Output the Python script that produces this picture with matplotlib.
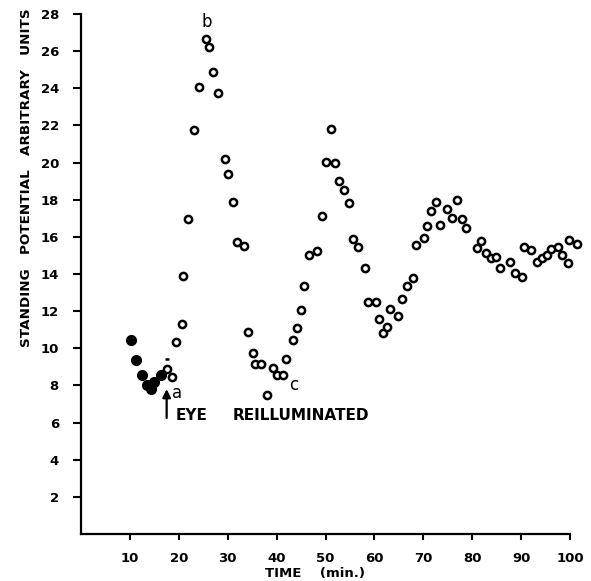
import numpy as np
import matplotlib.pyplot as plt

# Puntos llenos (antes de la reiluminación)
dark_time = [10.15, 11.23, 12.4, 13.42, 14.3, 14.97, 16.28]
dark_pot = [10.43, 9.37, 8.56, 8.02, 7.8, 8.21, 8.56]

# Puntos abiertos (ojo reiluminado)
light_time = [17.5, 18.53, 19.5, 20.64, 20.9, 21.93, 23.03, 24.18, 25.49, 26.16,
              26.98, 28.0, 29.37, 30.05, 31.13, 31.89, 33.38, 34.24, 35.1, 35.57,
              36.8, 38.09, 39.31, 40.07, 41.36, 41.97, 43.28, 44.22, 44.98, 45.53,
              46.68, 48.19, 49.21, 50.09, 51.05, 51.87, 52.81, 53.84, 54.74, 55.55,
              56.7, 58.13, 58.74, 60.22, 60.97, 61.85, 62.67, 63.18, 64.78, 65.6,
              66.7, 67.89, 68.6, 70.08, 70.85, 71.6, 72.53, 73.51, 74.9, 75.86,
              76.95, 77.91, 78.73, 80.92, 81.74, 82.82, 83.78, 84.93, 85.74, 87.67,
              88.81, 90.12, 90.59, 92.09, 93.31, 94.27, 95.3, 96.05, 97.55, 98.36,
              99.53, 99.73, 101.37]
light_pot = [8.9, 8.45, 10.33, 11.33, 13.9, 16.97, 21.75, 24.09, 26.68, 26.25,
             24.88, 23.77, 20.17, 19.38, 17.89, 15.73, 15.52, 10.9, 9.75, 9.15,
             9.15, 7.5, 8.94, 8.56, 8.56, 9.44, 10.43, 11.11, 12.04, 13.34,
             15.01, 15.26, 17.11, 20.05, 21.83, 19.99, 19.0, 18.55, 17.82, 15.86,
             15.48, 14.35, 12.49, 12.49, 11.6, 10.8, 11.14, 12.14, 11.72, 12.63,
             13.38, 13.8, 15.55, 15.94, 16.6, 17.41, 17.89, 16.63, 17.48, 17.03,
             17.96, 16.94, 16.5, 15.39, 15.8, 15.14, 14.85, 14.94, 14.35, 14.67,
             14.08, 13.85, 15.44, 15.3, 14.65, 14.87, 15.0, 15.32, 15.48, 15.0,
             14.58, 15.82, 15.6]

xticks = [10, 20, 30, 40, 50, 60, 70, 80, 90, 100]
yticks = [2, 4, 6, 8, 10, 12, 14, 16, 18, 20, 22, 24, 26, 28]

fig = plt.figure(figsize=(5.91, 5.81), dpi=100)
ax = fig.add_axes([81.1 / 591, 47 / 581, 488.9 / 591, 520 / 581])

ax.plot(dark_time, dark_pot, 'o', color='black', markersize=7, clip_on=False)
ax.plot(light_time, light_pot, 'o', markerfacecolor='white', markeredgecolor='black',
        markeredgewidth=1.8, markersize=5.2, clip_on=False)
# pequeño guion sobre el primer punto abierto
ax.plot([17.5], [9.42], '_', color='black', markersize=3, markeredgewidth=1.8)

ax.set_xlim(0, 100)
ax.set_ylim(0, 28)
ax.set_xticks(xticks)
ax.set_yticks(yticks)
ax.set_xticklabels([str(t) for t in xticks], fontsize=9.5, fontweight='bold')
ax.set_yticklabels([str(t) for t in yticks], fontsize=9.5, fontweight='bold')
ax.tick_params(axis='x', direction='out', length=4, width=1.5, pad=9)
ax.tick_params(axis='y', direction='out', length=6, width=1.5, pad=10)

for s in ['top', 'right']:
    ax.spines[s].set_visible(False)
for s in ['left', 'bottom']:
    ax.spines[s].set_linewidth(1.6)

# anotaciones
ax.text(25.8, 27.55, 'b', fontsize=12, ha='center', va='center')
ax.text(19.7, 7.6, 'a', fontsize=12, ha='center', va='center')
ax.text(43.4, 8.0, 'c', fontsize=12, ha='center', va='center')
ax.annotate('', xy=(17.5, 7.95), xytext=(17.5, 6.1),
            arrowprops=dict(arrowstyle='-|>', color='black', lw=1.6, mutation_scale=12))
ax.text(19.4, 6.36, 'EYE', fontsize=11, fontweight='bold', ha='left', va='center')
ax.text(30.9, 6.36, 'REILLUMINATED', fontsize=11, fontweight='bold', ha='left', va='center')

fig.text(27 / 591, 1 - 178 / 581, 'STANDING   POTENTIAL   ARBITRARY   UNITS',
         rotation=90, fontsize=9.7, fontweight='bold', ha='center', va='center')
fig.text(315 / 591, 1 - 574 / 581, 'TIME    (min.)', fontsize=9.5, fontweight='bold',
         ha='center', va='center')

fig.savefig('out.png', dpi=100)
